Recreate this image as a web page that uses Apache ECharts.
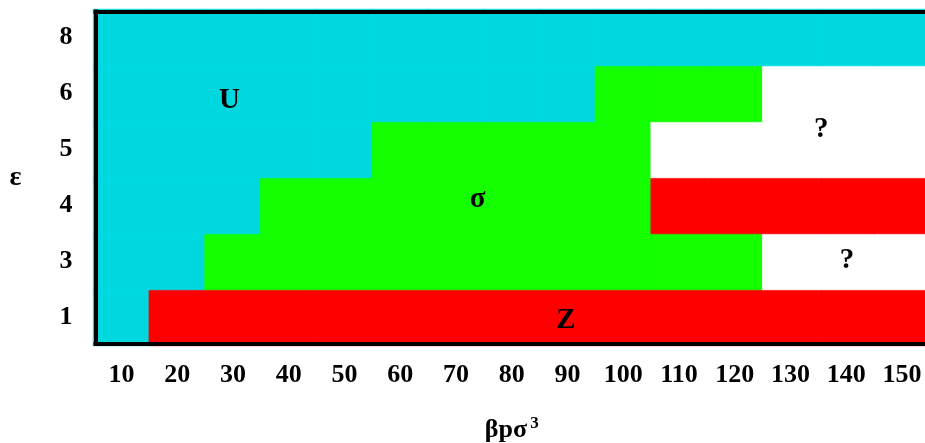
<!DOCTYPE html>
<html>
<head>
<meta charset="utf-8">
<title>Phase diagram</title>
<script src="https://cdn.jsdelivr.net/npm/echarts@6/dist/echarts.min.js"></script>
<style>
  html, body { margin: 0; padding: 0; background: #ffffff; }
  #chart { width: 925px; height: 443px; }
</style>
</head>
<body>
<div id="chart"></div>
<script>
// Pressure values along the horizontal axis
const pressures = ['10', '20', '30', '40', '50', '60', '70', '80', '90', '100', '110', '120', '130', '140', '150'];
// Epsilon values along the vertical axis (bottom to top)
const epsilons = ['1', '3', '4', '5', '6', '8'];

// Phase found at each pressure, one list per epsilon row
// U = U phase, S = sigma phase, Z = Z phase, Q = undetermined
const phaseEps1 = ['U', 'Z', 'Z', 'Z', 'Z', 'Z', 'Z', 'Z', 'Z', 'Z', 'Z', 'Z', 'Z', 'Z', 'Z'];
const phaseEps3 = ['U', 'U', 'S', 'S', 'S', 'S', 'S', 'S', 'S', 'S', 'S', 'S', 'Q', 'Q', 'Q'];
const phaseEps4 = ['U', 'U', 'U', 'S', 'S', 'S', 'S', 'S', 'S', 'S', 'Z', 'Z', 'Z', 'Z', 'Z'];
const phaseEps5 = ['U', 'U', 'U', 'U', 'U', 'S', 'S', 'S', 'S', 'S', 'Q', 'Q', 'Q', 'Q', 'Q'];
const phaseEps6 = ['U', 'U', 'U', 'U', 'U', 'U', 'U', 'U', 'U', 'S', 'S', 'S', 'Q', 'Q', 'Q'];
const phaseEps8 = ['U', 'U', 'U', 'U', 'U', 'U', 'U', 'U', 'U', 'U', 'U', 'U', 'U', 'U', 'U'];

// Region annotations: text, pressure, epsilon position (continuous scale, rows 0..6)
const regionText = ['U', 'σ', 'Z', '?', '?'];
const regionP    = [29.4, 73.9, 89.7, 135.5, 140.1];
const regionE    = [4.37, 2.60, 0.45, 3.85, 1.52];

const phaseColor = { U: '#00d8e0', S: '#14ff00', Z: '#ff0000', Q: '#ffffff' };

const rows = [phaseEps1, phaseEps3, phaseEps4, phaseEps5, phaseEps6, phaseEps8];
const cells = [];
rows.forEach((row, yi) => {
  row.forEach((ph, xi) => {
    const c = phaseColor[ph];
    cells.push({ value: [xi, yi, 1], itemStyle: { color: c, borderColor: c, borderWidth: 0.8 } });
  });
});

const labelPoints = regionText.map((t, i) => ({ value: [regionP[i], regionE[i]], name: t }));

const FONT = '"Liberation Serif", "Times New Roman", serif';
const frameLine = { show: true, onZero: false, lineStyle: { color: '#000', width: 4, cap: 'butt' } };

const chart = echarts.init(document.getElementById('chart'), null, { renderer: 'canvas' });
chart.setOption({
  animation: false,
  backgroundColor: '#ffffff',
  grid: { left: 93.5, top: 9.5, width: 836.5, height: 336, containLabel: false, outerBoundsMode: 'none' },
  xAxis: [
    {
      type: 'category', data: pressures, position: 'bottom', offset: -2, z: 10,
      axisLine: frameLine, axisTick: { show: false }, splitLine: { show: false },
      axisLabel: { fontFamily: FONT, fontWeight: 'bold', fontSize: 26, color: '#000', margin: 19, interval: 0 },
      name: 'βpσ{sup|3}', nameLocation: 'middle', nameGap: 72,
      nameTextStyle: {
        fontFamily: FONT, fontWeight: 'bold', fontSize: 26, color: '#000',
        rich: { sup: { fontFamily: FONT, fontWeight: 'bold', fontSize: 17, color: '#000', verticalAlign: 'top', padding: [0, 0, 12, 3] } }
      }
    },
    {
      type: 'value', min: 5, max: 155, show: false
    },
    {
      type: 'category', data: pressures, position: 'top', offset: -2, z: 10,
      axisLine: frameLine, axisTick: { show: false }, axisLabel: { show: false }, splitLine: { show: false }
    }
  ],
  yAxis: [
    {
      type: 'category', data: epsilons, position: 'left', offset: -2, z: 10,
      axisLine: frameLine, axisTick: { show: false }, splitLine: { show: false },
      axisLabel: { fontFamily: FONT, fontWeight: 'bold', fontSize: 26, color: '#000', margin: 23 },
      name: 'ε', nameLocation: 'middle', nameGap: 74, nameRotate: 0,
      nameTextStyle: { fontFamily: FONT, fontWeight: 'bold', fontSize: 28, color: '#000' }
    },
    {
      type: 'value', min: 0, max: 6, show: false
    }
  ],
  series: [
    {
      type: 'heatmap', xAxisIndex: 0, yAxisIndex: 0, data: cells,
      label: { show: false }, emphasis: { disabled: true }
    },
    {
      type: 'scatter', xAxisIndex: 1, yAxisIndex: 1, data: labelPoints,
      symbolSize: 0, z: 5, itemStyle: { color: '#000', opacity: 1 },
      emphasis: { disabled: true },
      label: {
        show: true, position: 'inside', formatter: p => p.name,
        fontFamily: FONT, fontWeight: 'bold', fontSize: 29, color: '#000',
        textBorderWidth: 0, textBorderColor: 'transparent'
      }
    }
  ]
});
</script>
</body>
</html>
